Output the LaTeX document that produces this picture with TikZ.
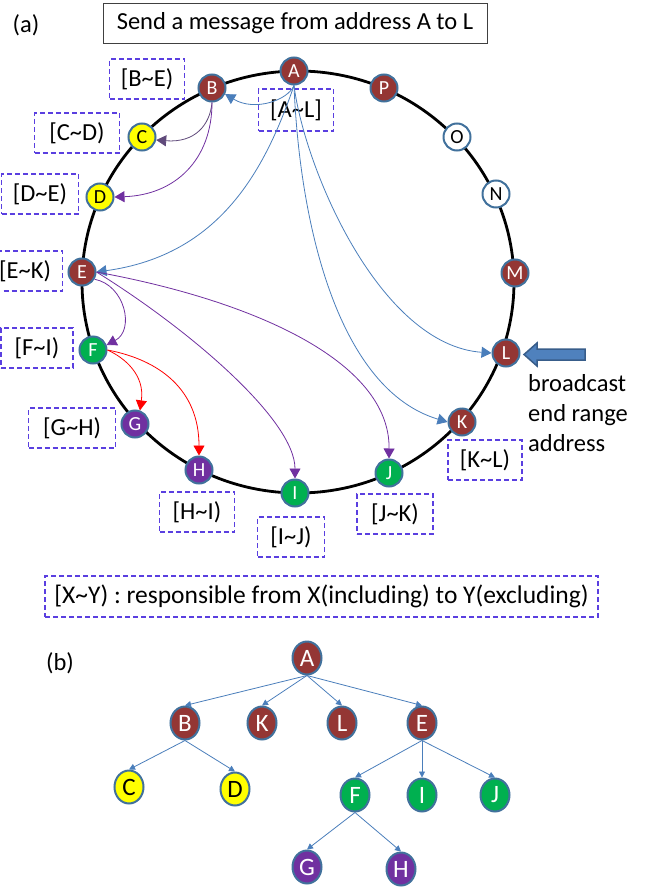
\documentclass[tikz,border=0pt]{standalone}
\usepackage{fontspec}
\setmainfont{Carlito}
\usepackage{xcolor}
\usepackage{tikz}
\usetikzlibrary{positioning,arrows.meta,shapes.geometric}
\definecolor{ringred}{HTML}{943634}
\definecolor{ringgreen}{HTML}{00B050}
\definecolor{ringpurple}{HTML}{7030A0}
\definecolor{ringyellow}{HTML}{FFFF00}
\definecolor{rim}{HTML}{41719C}
\definecolor{linkblue}{HTML}{4A7EBB}
\definecolor{linkpurple}{HTML}{7030A0}
\definecolor{linkgray}{HTML}{604A7B}
\definecolor{tagline}{HTML}{5A3FE0}
\definecolor{bigblue}{HTML}{4F81BD}
\definecolor{bigrim}{HTML}{385D8A}

\begin{document}
\begin{tikzpicture}[x=1pt,y=-1pt,font=\fontsize{24.5}{30}\selectfont,
    peer/.style={circle,draw=rim,line width=2pt,minimum size=27pt,inner sep=0pt,
                 font=\fontsize{20}{20}\selectfont},
    redpeer/.style={peer,fill=ringred,text=white},
    greenpeer/.style={peer,fill=ringgreen,text=white},
    purplepeer/.style={peer,fill=ringpurple,text=white},
    yellowpeer/.style={peer,fill=ringyellow},
    idlepeer/.style={peer,fill=white},
    twig/.style={ellipse,draw=rim,line width=2pt,minimum width=29pt,minimum height=33pt,
                 inner sep=0pt,font=\fontsize{25}{25}\selectfont},
    rangebox/.style={draw=tagline,line width=1.2pt,dash pattern=on 5pt off 3pt,
                     minimum width=75pt,minimum height=40pt,inner sep=0pt},
    link/.style={-{Triangle[length=10pt,width=11pt]},line width=0.8pt},
    treelink/.style={-{Triangle[length=6pt,width=6pt]},line width=0.8pt,linkblue}]
  \useasboundingbox (0,0) rectangle (647,888);

  % (a) ring
  \node (lbla) at (26,25) {(a)};
  \node[draw=black!75,line width=0.8pt,minimum width=384pt,minimum height=40pt,inner sep=0pt]
    (title) at (295,23) {Send a message from address A to L};

  \draw[line width=2.8pt] (298,282) ellipse [x radius=216pt, y radius=211pt];

  \node[redpeer] (A) at (294,71) {A};
  \node[redpeer] (P) at (384,88) {P};
  \node[idlepeer] (O) at (457,137) {O};
  \node[idlepeer] (N) at (496,194) {N};
  \node[redpeer] (M) at (515,273) {M};
  \node[redpeer] (L) at (506,353) {L};
  \node[redpeer] (K) at (462,422) {K};
  \node[greenpeer] (J) at (389,473) {J};
  \node[greenpeer] (I) at (295,493) {I};
  \node[purplepeer] (H) at (199,470) {H};
  \node[purplepeer] (G) at (135,424) {G};
  \node[greenpeer] (F) at (93,350) {F};
  \node[redpeer] (E) at (82,272) {E};
  \node[yellowpeer] (D) at (100,197) {D};
  \node[yellowpeer] (C) at (142,137) {C};
  \node[redpeer] (B) at (212,88) {B};

  \node[rangebox] (rB) at (147,79) {[B\char"7E E)};
  \node[rangebox,minimum width=85pt] (rC) at (77,133) {[C\char"7E D)};
  \node[rangebox,minimum width=77pt] (rD) at (40,194) {[D\char"7E E)};
  \node[rangebox,minimum height=42pt] (rA) at (296,110) {[A\char"7E L]};
  \node[rangebox] (rE) at (25,271) {[E\char"7E K)};
  \node[rangebox,minimum width=72pt] (rF) at (37,348) {[F\char"7E I)};
  \node[rangebox,minimum width=87pt] (rG) at (72,428) {[G\char"7E H)};
  \node[rangebox] (rH) at (197,512) {[H\char"7E I)};
  \node[rangebox,minimum width=67pt] (rI) at (291,537) {[I\char"7E J)};
  \node[rangebox,minimum width=76pt] (rJ) at (395,514) {[J\char"7E K)};
  \node[rangebox,minimum width=74pt] (rK) at (485,460) {[K\char"7E L)};

  % forwarding from A
  \draw[link,linkblue] (A.south) .. controls (288,100) and (255,112) .. (B.-25);
  \draw[link,linkblue] (A.south) .. controls (265,170) and (220,255) .. (E.east);
  \draw[link,linkblue] (A.south) .. controls (305,170) and (380,345) .. (L.west);
  \draw[link,linkblue] (A.south) .. controls (300,230) and (340,390) .. (K.west);
  % forwarding from B, E, F
  \draw[link,linkgray] (B.south) .. controls (210,125) and (195,143) .. (C.-12);
  \draw[link,linkpurple] (B.south) .. controls (212,160) and (175,195) .. (D.east);
  \draw[link,linkpurple] (E.-30) .. controls (125,285) and (135,330) .. (F.20);
  \draw[link,linkpurple] (E.east) .. controls (190,330) and (295,420) .. (I.north);
  \draw[link,linkpurple] (E.east) .. controls (250,300) and (390,360) .. (J.north);
  \draw[link,red] (F.east) .. controls (125,358) and (145,375) .. (G.70);
  \draw[link,red] (F.east) .. controls (160,360) and (199,390) .. (H.north);

  \draw[fill=bigblue,draw=bigrim,line width=1.5pt]
    (524,354.5) -- (537,343) -- (537,349) -- (585,349) -- (585,360) -- (537,360) -- (537,366) -- cycle;
  \node[align=left,anchor=north west,inner sep=0pt] (bcast) at (528,374)
    {broadcast\\end range\\address};

  \node[rangebox,minimum width=553pt,minimum height=41pt,font=\fontsize{25.5}{30}\selectfont]
    (legend) at (321.5,596.5)
    {[X\char"7E Y) : responsible from X(including) to Y(excluding)};

  % (b) tree
  \node (lblb) at (60,663) {(b)};
  \node[twig,fill=ringred,text=white] (tA) at (307,658) {A};
  \node[twig,fill=ringred,text=white] (tB) at (185,723) {B};
  \node[twig,fill=ringred,text=white] (tK) at (262,723) {K};
  \node[twig,fill=ringred,text=white] (tL) at (342,723) {L};
  \node[twig,fill=ringred,text=white] (tE) at (422,723) {E};
  \node[twig,fill=ringyellow] (tC) at (129,787) {C};
  \node[twig,fill=ringyellow] (tD) at (235,789) {D};
  \node[twig,fill=ringgreen,text=white] (tF) at (355,795) {F};
  \node[twig,fill=ringgreen,text=white] (tI) at (422,795) {I};
  \node[twig,fill=ringgreen,text=white] (tJ) at (495,795) {J};
  \node[twig,fill=ringpurple,text=white] (tG) at (307,867) {G};
  \node[twig,fill=ringpurple,text=white] (tH) at (401,869) {H};

  \draw[treelink] (tA.south) -- (tB.north);
  \draw[treelink] (tA.south) -- (tK.north);
  \draw[treelink] (tA.south) -- (tL.north);
  \draw[treelink] (tA.south) -- (tE.north);
  \draw[treelink] (tB.south) -- (tC.north);
  \draw[treelink] (tB.south) -- (tD.north);
  \draw[treelink] (tE.south) -- (tF.north);
  \draw[treelink] (tE.south) -- (tI.north);
  \draw[treelink] (tE.south) -- (tJ.north);
  \draw[treelink] (tF.south) -- (tG.north);
  \draw[treelink] (tF.south) -- (tH.north);
\end{tikzpicture}
\end{document}
